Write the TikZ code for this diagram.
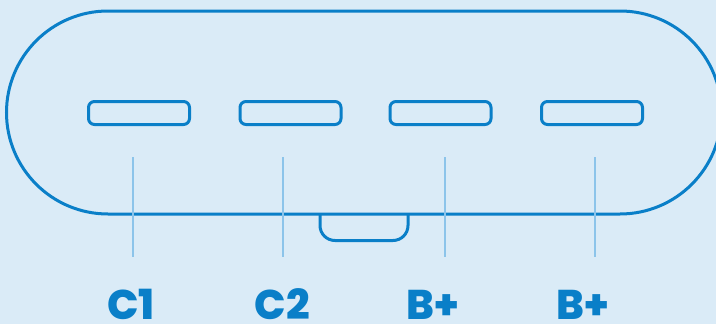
\documentclass[tikz,border=0pt]{standalone}
\usepackage{fontspec}
\setmainfont{Poppins}[BoldFont={Poppins ExtraBold}]
\definecolor{bg}{HTML}{DAEBF7}
\definecolor{main}{HTML}{0A7FC8}
\definecolor{lead}{HTML}{8CC4EA}
\tikzset{
  outline/.style={draw=main, line width=3pt},
  slot/.style={draw=main, line width=3pt, rounded corners=6pt, minimum width=101pt, minimum height=23pt, inner sep=0pt},
  leadline/.style={draw=lead, line width=1.8pt},
  portlabel/.style={text=main, font=\bfseries\fontsize{41.5}{41.5}\selectfont, inner sep=0pt, anchor=base}
}
\begin{document}
\begin{tikzpicture}[x=1pt,y=-1pt]
\fill[bg] (0,0) rectangle (716,324);
\clip (0,0) rectangle (716,324);
% body
\draw[outline] (108,11) -- (620,11) arc[start angle=-90, end angle=90, radius=101.5] -- (108,214) arc[start angle=90, end angle=270, radius=101.5] -- cycle;
% bump
\draw[outline, rounded corners=15pt] (320,214) -- (320,240.5) -- (408,240.5) -- (408,214);
% slots
\node[slot] (s1) at (139,113) {};
\node[slot] (s2) at (290.5,113) {};
\node[slot] (s3) at (440.5,113) {};
\node[slot] (s4) at (592,113) {};
% leads
\coordinate (t1) at (133,157); \coordinate (b1) at (133,257);
\coordinate (t2) at (283,157); \coordinate (b2) at (283,257);
\coordinate (t3) at (445,157); \coordinate (b3) at (445,257);
\coordinate (t4) at (595,157); \coordinate (b4) at (595,257);
\draw[leadline] (t1) -- (b1);
\draw[leadline] (t2) -- (b2);
\draw[leadline] (t3) -- (b3);
\draw[leadline] (t4) -- (b4);
% labels
\node[portlabel] (l1) at (131,319) {C1};
\node[portlabel] (l2) at (282.5,319) {C2};
\node[portlabel] (l3) at (432.5,319) {B+};
\node[portlabel] (l4) at (582.5,319) {B+};
\end{tikzpicture}
\end{document}
